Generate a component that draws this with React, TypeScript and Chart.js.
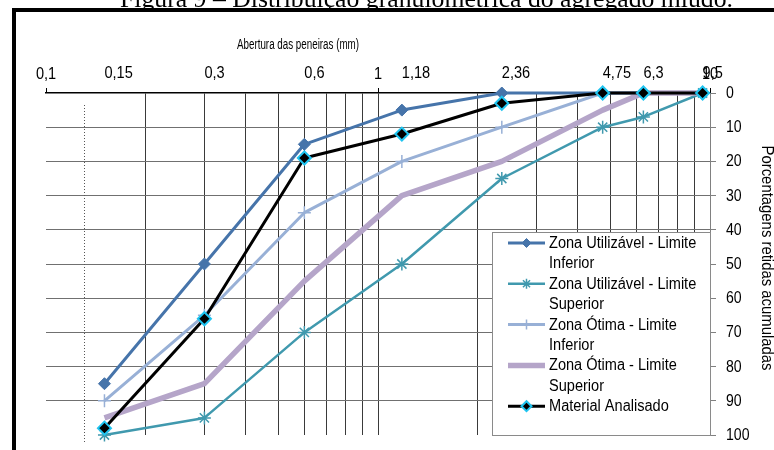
import React, { useEffect, useRef } from "react";
import { Chart, registerables } from "chart.js";
import { drawPoint } from "chart.js/helpers";
Chart.register(...registerables);

// ---- data ----
const sieves = [0.15, 0.3, 0.6, 1.18, 2.36, 4.75, 6.3, 9.5];
const sieveLabels = ["0,15", "0,3", "0,6", "1,18", "2,36", "4,75", "6,3", "9,5"];
const majorTicks = [0.1, 1, 10];
const majorLabels = ["0,1", "1", "10"];
const gridTicks = [0.1, 0.2, 0.3, 0.4, 0.5, 0.6, 0.7, 0.8, 0.9, 1, 2, 3, 4, 5, 6, 7, 8, 9, 10];
const yTicks = [0, 10, 20, 30, 40, 50, 60, 70, 80, 90, 100];
const dottedMarkerAt = 0.13;

const utilInferior = [85, 50, 15, 5, 0, 0, 0, 0];
const utilSuperior = [100, 95, 70, 50, 25, 10, 7, 0];
const otimaInferior = [90, 65, 35, 20, 10, 0, 0, 0];
const otimaSuperior = [95, 85, 55, 30, 20, 5, 0, 0];
const material = [98, 66, 19, 12, 3, 0, 0, 0];

const seriesNames = [
  "Zona Utilizável - Limite Inferior",
  "Zona Utilizável - Limite Superior",
  "Zona Ótima - Limite Inferior",
  "Zona Ótima - Limite Superior",
  "Material Analisado",
];

const figureTitle = "Figura 9 – Distribuição granulométrica do agregado miúdo.";
const xTitle = "Abertura das peneiras (mm)";
const yTitle = "Porcentagens retidas acumuladas";

const TRANSPARENT = "rgba(0,0,0,0)";
const SANS = "'Liberation Sans', Arial, sans-serif";

function pts(vals: number[]) {
  return sieves.map((x, i) => ({ x, y: vals[i] }));
}

function txt(ctx: CanvasRenderingContext2D, s: string, x: number, y: number, size: number, align: CanvasTextAlign, sx = 0.91, baseline: CanvasTextBaseline = "middle") {
  ctx.save();
  ctx.font = `${size}px ${SANS}`;
  ctx.fillStyle = "#000";
  ctx.textBaseline = baseline;
  ctx.textAlign = align;
  ctx.translate(x, y);
  ctx.scale(sx, 1);
  ctx.fillText(s, 0, 0);
  ctx.restore();
}

const decorPlugin = {
  id: "decor",
  beforeDatasetsDraw(chart: any) {
    const ctx = chart.ctx as CanvasRenderingContext2D;
    const xs = chart.scales.x;
    const area = chart.chartArea;
    const px = Math.round(xs.getPixelForValue(dottedMarkerAt)) + 0.5;
    ctx.save();
    ctx.strokeStyle = "#555";
    ctx.lineWidth = 1;
    ctx.setLineDash([1, 2]);
    ctx.beginPath();
    ctx.moveTo(px, area.top + 12);
    ctx.lineTo(px, area.bottom + 7);
    ctx.stroke();
    ctx.restore();
  },
  afterDraw(chart: any) {
    const ctx = chart.ctx as CanvasRenderingContext2D;
    const xs = chart.scales.x;
    const ys = chart.scales.y;
    const area = chart.chartArea;

    // figure frame
    ctx.save();
    ctx.fillStyle = "#000";
    ctx.fillRect(12, 8, 800, 4);
    ctx.fillRect(12, 8, 4, 460);
    // figure caption (cut off by the top edge)
    ctx.font = "26px 'Liberation Serif', 'Times New Roman', serif";
    ctx.textBaseline = "alphabetic";
    ctx.textAlign = "left";
    ctx.fillText(figureTitle, 120, 7, 613);
    ctx.restore();

    // top axis labels
    majorTicks.forEach((v, i) => {
      txt(ctx, majorLabels[i], xs.getPixelForValue(v), 75, 16, "center");
    });
    sieves.forEach((v, i) => {
      txt(ctx, sieveLabels[i], xs.getPixelForValue(v), 74, 16, "left");
    });
    txt(ctx, xTitle, 298, 45, 14, "center", 0.7);

    // right axis labels
    yTicks.forEach((v) => {
      txt(ctx, String(v), area.right + 16, ys.getPixelForValue(v) + 0.5, 16, "left", 0.88);
    });
    // right axis title (rotated clockwise)
    ctx.save();
    ctx.translate(762, (area.top + area.bottom) / 2 - 6);
    ctx.rotate(Math.PI / 2);
    txt(ctx, yTitle, 0, 0, 16, "center", 0.93, "alphabetic");
    ctx.restore();

    // legend
    const L = { left: 492, top: 232, right: area.right + 1, bottom: 436 };
    ctx.save();
    ctx.fillStyle = "#fff";
    ctx.fillRect(L.left, L.top, L.right - L.left, L.bottom - L.top);
    ctx.strokeStyle = "#8a8a8a";
    ctx.lineWidth = 1;
    ctx.strokeRect(L.left + 0.5, L.top + 0.5, L.right - L.left - 1, L.bottom - L.top - 1);
    ctx.restore();

    const lineH = 20.4;
    let y = 243;
    const sampleL = 508, sampleR = 545, textX = 549, maxW = 158;
    chart.data.datasets.forEach((ds: any) => {
      // wrap text
      ctx.save();
      ctx.font = `16px ${SANS}`;
      const words = ds.label.split(" ");
      const lines: string[] = [];
      let cur = "";
      words.forEach((w: string) => {
        const test = cur ? cur + " " + w : w;
        if (ctx.measureText(test).width * 0.91 > maxW && cur) {
          lines.push(cur);
          cur = w;
        } else cur = test;
      });
      if (cur) lines.push(cur);
      ctx.restore();

      // sample line
      ctx.save();
      ctx.strokeStyle = ds.borderColor;
      ctx.lineWidth = ds.borderWidth;
      ctx.beginPath();
      ctx.moveTo(sampleL, y);
      ctx.lineTo(sampleR, y);
      ctx.stroke();
      if (ds.pointRadius > 0) {
        ctx.fillStyle = ds.pointBackgroundColor;
        ctx.strokeStyle = ds.pointBorderColor;
        ctx.lineWidth = ds.pointBorderWidth;
        drawPoint(ctx, { pointStyle: ds.pointStyle, radius: ds.pointRadius - 1.5, rotation: 0, borderWidth: ds.pointBorderWidth } as any, (sampleL + sampleR) / 2, y);
      }
      ctx.restore();

      lines.forEach((ln, k) => {
        txt(ctx, ln, textX, y + k * lineH + 0.5, 16, "left", 0.91);
      });
      y += lines.length * lineH;
    });
  },
};

export default function App() {
  const ref = useRef<HTMLCanvasElement | null>(null);

  useEffect(() => {
    if (!ref.current) return;
    const common = { tension: 0, clip: false as any, borderJoinStyle: "round" as const };
    const chart = new Chart(ref.current, {
      type: "line",
      data: {
        datasets: [
          {
            ...common,
            label: seriesNames[0],
            data: pts(utilInferior),
            borderColor: "#4674AA",
            backgroundColor: "#4674AA",
            pointBackgroundColor: "#4674AA",
            pointBorderColor: "#4674AA",
            pointStyle: "rectRot",
            pointRadius: 6,
            pointBorderWidth: 1,
            borderWidth: 3,
            order: 4,
          },
          {
            ...common,
            label: seriesNames[1],
            data: pts(utilSuperior),
            borderColor: "#4099AE",
            backgroundColor: "#4099AE",
            pointBackgroundColor: "#4099AE",
            pointBorderColor: "#4099AE",
            pointStyle: "star",
            pointRadius: 6.5,
            pointBorderWidth: 1.5,
            borderWidth: 2.5,
            order: 3,
          },
          {
            ...common,
            label: seriesNames[2],
            data: pts(otimaInferior),
            borderColor: "#98B0D6",
            backgroundColor: "#98B0D6",
            pointBackgroundColor: "#98B0D6",
            pointBorderColor: "#98B0D6",
            pointStyle: "cross",
            pointRadius: 6.5,
            pointBorderWidth: 1.5,
            borderWidth: 3,
            order: 2,
          },
          {
            ...common,
            label: seriesNames[3],
            data: pts(otimaSuperior),
            borderColor: "#B5A5C9",
            backgroundColor: "#B5A5C9",
            pointRadius: 0,
            borderWidth: 5.5,
            order: 1,
          },
          {
            ...common,
            label: seriesNames[4],
            data: pts(material),
            borderColor: "#000000",
            backgroundColor: "#000000",
            pointBackgroundColor: "#000000",
            pointBorderColor: "#1FC4F0",
            pointStyle: "rectRot",
            pointRadius: 6.5,
            pointBorderWidth: 2,
            borderWidth: 3,
            order: 0,
          },
        ] as any,
      },
      options: {
        responsive: false,
        animation: false,
        layout: { padding: { left: 46, top: 0, right: 0, bottom: 15 } },
        plugins: { legend: { display: false }, tooltip: { enabled: false } },
        scales: {
          x: {
            type: "logarithmic",
            position: "top",
            min: 0.1,
            max: 10,
            afterBuildTicks: (s: any) => {
              s.ticks = gridTicks.map((v) => ({ value: v, major: majorTicks.includes(v) }));
            },
            afterFit: (s: any) => {
              s.height = 93;
            },
            ticks: { display: false },
            grid: {
              drawTicks: true,
              tickLength: 5,
              lineWidth: 1,
              color: (c: any) => (c.tick && (c.tick.value === 0.1 || c.tick.value === 10) ? TRANSPARENT : "#3a3a3a"),
              tickColor: (c: any) => (c.tick && majorTicks.includes(c.tick.value) ? "#000" : TRANSPARENT),
            },
            border: { display: true, color: "#000", width: 1.5 },
          },
          y: {
            type: "linear",
            position: "right",
            reverse: true,
            min: 0,
            max: 100,
            afterBuildTicks: (s: any) => {
              s.ticks = yTicks.map((v) => ({ value: v }));
            },
            afterFit: (s: any) => {
              s.width = 64;
            },
            ticks: { display: false },
            grid: {
              drawTicks: true,
              tickLength: 6,
              lineWidth: 1,
              color: (c: any) => (c.tick && (c.tick.value === 0 || c.tick.value === 100) ? TRANSPARENT : "#707070"),
              tickColor: "#808080",
            },
            border: { display: true, color: "#808080", width: 1 },
          },
        },
      },
      plugins: [decorPlugin],
    });
    return () => chart.destroy();
  }, []);

  return (
    <div style={{ position: "absolute", left: 0, top: 0, width: 774, height: 450, overflow: "hidden", background: "#fff" }}>
      <canvas ref={ref} width={774} height={450} style={{ width: 774, height: 450, display: "block" }} />
    </div>
  );
}
